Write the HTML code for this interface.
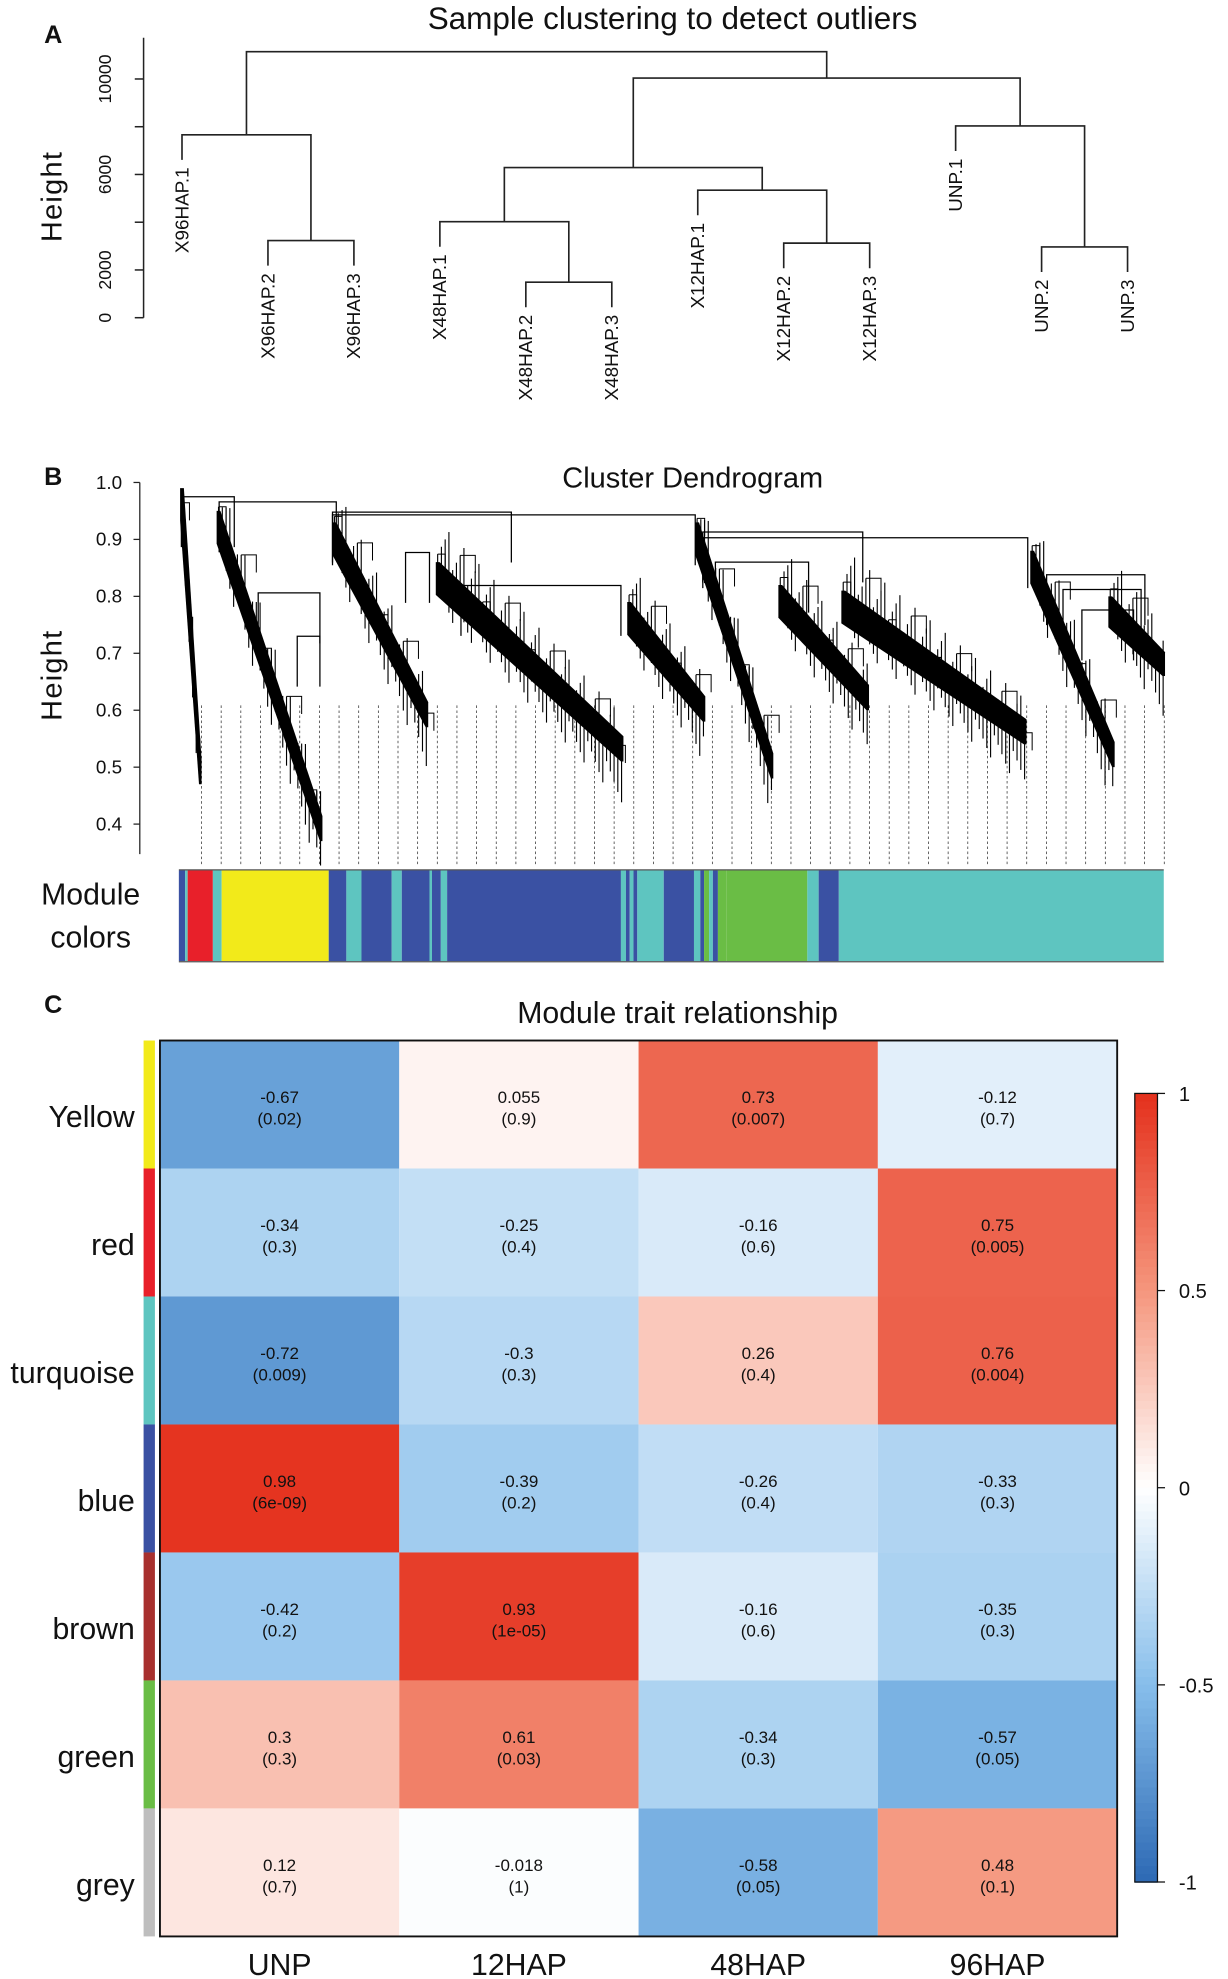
<!DOCTYPE html>
<html><head><meta charset="utf-8"><style>
html,body{margin:0;padding:0;background:#fff}
svg{display:block}
text{font-family:"Liberation Sans",sans-serif;fill:#111}
</style></head><body>
<svg id="fig" xmlns="http://www.w3.org/2000/svg" width="1228" height="1979" viewBox="0 0 975 1571" preserveAspectRatio="none">
<g id="pa"></g>
<g id="pb"></g>
<g id="pc"></g>
</svg>
<script>
// ---------- Panel A data ----------
const sampleLabels = ["X96HAP.1","X96HAP.2","X96HAP.3","X48HAP.1","X48HAP.2","X48HAP.3","X12HAP.1","X12HAP.2","X12HAP.3","UNP.1","UNP.2","UNP.3"];
const mergeLeft  = [-2,-5,-8,-11,-1,-4,-7,6,-10,8,5];
const mergeRight = [-3,-6,-9,-12, 1, 2, 3,7, 4, 9,10];
const mergeHeight= [3230,1488,3124,2966,7662,4021,5340,6290,8032,10037,11145];
const heightTicks = [0,2000,4000,6000,8000,10000];
const heightTickLabels = ["0","2000","","6000","","10000"];

// ---------- Panel B data ----------
const dendroTicks = [1.0,0.9,0.8,0.7,0.6,0.5,0.4];
const joinX0 = [144,174,264,264,558,558,568,366,322,205,236,831,844,859];
const joinX1 = [186,267,406,552,816,685,642,493,341,254,254,909,906,900];
const joinH  = [0.975,0.966,0.948,0.943,0.903,0.913,0.86,0.819,0.877,0.806,0.73,0.838,0.812,0.776];
const clX0 = [143,172,264,346,498,552,618,668,818,880];
const clX1 = [160,256,340,495,560,614,690,815,885,925];
const clTop= [0.99,0.95,0.93,0.86,0.79,0.93,0.82,0.81,0.88,0.80];
const clBot= [0.47,0.37,0.57,0.51,0.58,0.48,0.60,0.54,0.50,0.66];
const moduleSegStart = [142,147,149,169,176,261,275,287,311,319,341,343,350,355,493,497,500,503,506,527,551,556,559,563,566,570,577,641,650,666];
const moduleSegEnd   = [147,149,169,176,261,275,287,311,319,341,343,350,355,493,497,500,503,506,527,551,556,559,563,566,570,577,641,650,666,924];
const moduleSegColor = ["blue","turquoise","red","turquoise","yellow","blue","turquoise","blue","turquoise","blue","turquoise","blue","turquoise","blue","turquoise","blue","turquoise","blue","turquoise","blue","turquoise","blue","green","turquoise","blue","green","green","turquoise","blue","turquoise"];

// ---------- Panel C data ----------
const traits = ["UNP","12HAP","48HAP","96HAP"];
const modules = ["Yellow","red","turquoise","blue","brown","green","grey"];
const moduleSwatch = ["#f2ea1a","#e8202a","#5ec5c0","#3a51a3","#a8302e","#6abd45","#bebebe"];
const corrUNP   = [-0.67,-0.34,-0.72,0.98,-0.42,0.3,0.12];
const corr12HAP = [0.055,-0.25,-0.3,-0.39,0.93,0.61,-0.018];
const corr48HAP = [0.73,-0.16,0.26,-0.26,-0.16,-0.34,-0.58];
const corr96HAP = [-0.12,0.75,0.76,-0.33,-0.35,-0.57,0.48];
const pUNP   = ["0.02","0.3","0.009","6e-09","0.2","0.3","0.7"];
const p12HAP = ["0.9","0.4","0.3","0.2","1e-05","0.03","1"];
const p48HAP = ["0.007","0.6","0.4","0.4","0.6","0.3","0.05"];
const p96HAP = ["0.7","0.005","0.004","0.3","0.3","0.05","0.1"];
const legendTicks = [1,0.5,0,-0.5,-1];

const NS="http://www.w3.org/2000/svg";
function mk(parent,tag,attrs,txt){const e=document.createElementNS(NS,tag);for(const k in attrs)e.setAttribute(k,attrs[k]);if(txt!==undefined)e.textContent=txt;parent.appendChild(e);return e;}
const modColors={blue:"#3a51a3",turquoise:"#5ec5c0",red:"#e8202a",yellow:"#f2ea1a",green:"#6abd45"};

// ================= PANEL A =================
(function(){
const g=document.getElementById('pa');
let t=mk(g,'text',{x:35,y:34,'font-size':20,'font-weight':'bold'},'A');


t=mk(g,'text',{x:534,y:23,'font-size':25,'text-anchor':'middle'},'Sample clustering to detect outliers');


const yA=h=>252.2-h/2000*37.9;
const xA=i=>144.5+i*68.25;
let ax=mk(g,'line',{x1:114,y1:30,x2:114,y2:252.2,stroke:'#222','stroke-width':1.2});


heightTicks.forEach((v,i)=>{
  mk(g,'line',{x1:107,y1:yA(v),x2:114,y2:yA(v),stroke:'#222','stroke-width':1.2});
  if(heightTickLabels[i]){const tt=mk(g,'text',{x:0,y:0,'font-size':14,'text-anchor':'middle',transform:`translate(88,${yA(v)}) rotate(-90)`},heightTickLabels[i]);
  
  }
});
t=mk(g,'text',{x:0,y:0,'font-size':23,'text-anchor':'middle','letter-spacing':1,transform:'translate(49,156) rotate(-90)'},'Height');


const nodeX=[],nodeH=[];
const cx=c=>c<0?xA(-c-1):nodeX[c-1];
const ch=c=>c<0?null:nodeH[c-1];
const hang=1050;
for(let m=0;m<mergeHeight.length;m++){
  const h=mergeHeight[m];
  const L=mergeLeft[m],R=mergeRight[m];
  const xl=cx(L),xr=cx(R);
  const hl=L<0?h-hang:ch(L), hr=R<0?h-hang:ch(R);
  const p=mk(g,'path',{d:`M${xl},${yA(hl)}V${yA(h)}H${xr}V${yA(hr)}`,fill:'none',stroke:'#222','stroke-width':1.3});
  
  
  nodeX.push((xl+xr)/2);nodeH.push(h);
  [[L,hl,xl],[R,hr,xr]].forEach(([c,hh,xx])=>{
    if(c<0){const lb=mk(g,'text',{x:0,y:0,'font-size':15,'text-anchor':'end',transform:`translate(${xx+5},${yA(hh)+6}) rotate(-90)`},sampleLabels[-c-1]);
    
    }
  });
}
})();

// ================= PANEL B =================
(function(){
const g=document.getElementById('pb');
let t=mk(g,'text',{x:35,y:385,'font-size':20,'font-weight':'bold'},'B');


t=mk(g,'text',{x:550,y:387,'font-size':23,'text-anchor':'middle'},'Cluster Dendrogram');


const yB=h=>383+(1-h)*452;
let ax=mk(g,'line',{x1:111,y1:383,x2:111,y2:678,stroke:'#222','stroke-width':1});


dendroTicks.forEach(v=>{
  mk(g,'line',{x1:106,y1:yB(v),x2:111,y2:yB(v),stroke:'#222','stroke-width':1});
  const tt=mk(g,'text',{x:97,y:yB(v)+5,'font-size':15,'text-anchor':'end'},v.toFixed(1));
  
  
});
t=mk(g,'text',{x:0,y:0,'font-size':23,'text-anchor':'middle','letter-spacing':1,transform:'translate(49,536) rotate(-90)'},'Height');


for(let x=160;x<=925;x+=15.6){
  const l=mk(g,'line',{x1:x,y1:560,x2:x,y2:688,stroke:'#333','stroke-width':0.6,'stroke-dasharray':'2,2'});
  
  
}
clX0.forEach((x0,i)=>{
  const x1=clX1[i],yt=yB(clTop[i]),yb=yB(clBot[i]);
  const th=Math.min(20,(yb-yt)*0.3);
  const p=mk(g,'path',{d:`M${x0},${yt}L${x0+3},${yt}L${x1},${yb-th}L${x1},${yb}L${x1-2},${yb}L${x0},${yt+th*1.3}Z`,fill:'#000'});
  
  
  const n=Math.max(4,Math.round((x1-x0)/3));
  for(let k=0;k<n;k++){
    const f=(k+0.5)/n, x=x0+f*(x1-x0), y=yt+f*(yb-yt);
    const up=8+(k%4)*9, dn=6+(k%5)*5;
    const d=mk(g,'line',{x1:x,y1:y-up,x2:x,y2:y+th*0.4+dn,stroke:'#000','stroke-width':0.9});
    
    
    if(k%6===0){
      const hb=mk(g,'path',{d:`M${x},${y-up}H${x+6+(k%4)*3}V${y-up+14}`,fill:'none',stroke:'#000','stroke-width':0.8});
      
      
    }
  }
});
joinX0.forEach((x0,i)=>{
  const y=yB(joinH[i]);
  const p=mk(g,'path',{d:`M${x0},${y+40}V${y}H${joinX1[i]}V${y+40}`,fill:'none',stroke:'#000','stroke-width':1});
  
  
});
moduleSegStart.forEach((x0,i)=>{
  const r=mk(g,'rect',{x:x0,y:691,width:moduleSegEnd[i]-x0,height:72,fill:modColors[moduleSegColor[i]]});
  
  
});
mk(g,'line',{x1:142,y1:690.5,x2:924,y2:690.5,stroke:'#555','stroke-width':1});
mk(g,'line',{x1:142,y1:763.5,x2:924,y2:763.5,stroke:'#555','stroke-width':1});
t=mk(g,'text',{x:72,y:718,'font-size':24,'text-anchor':'middle'},'Module');


t=mk(g,'text',{x:72,y:752,'font-size':24,'text-anchor':'middle'},'colors');


})();

// ================= PANEL C =================
(function(){
const g=document.getElementById('pc');
let t=mk(g,'text',{x:35,y:804,'font-size':20,'font-weight':'bold'},'C');


t=mk(g,'text',{x:538,y:812,'font-size':24,'text-anchor':'middle'},'Module trait relationship');


const X0=127,Y0=826,CW=190,RH=101.6;
const lerp=(a,b,t)=>a.map((v,i)=>Math.round(v+(b[i]-v)*t));
function col(v){
  const W=[255,255,255],B1=[135,190,235],B2=[45,105,180],R1=[245,150,125],R2=[228,48,28];
  let c;
  if(v>=0)c=v<=0.5?lerp(W,R1,v/0.5):lerp(R1,R2,(v-0.5)/0.5);
  else{const a=-v;c=a<=0.5?lerp(W,B1,a/0.5):lerp(B1,B2,(a-0.5)/0.5);}
  return `rgb(${c[0]},${c[1]},${c[2]})`;
}
const corr=[corrUNP,corr12HAP,corr48HAP,corr96HAP];
const pv=[pUNP,p12HAP,p48HAP,p96HAP];
modules.forEach((m,r)=>{
  const y=Y0+r*RH;
  const sw=mk(g,'rect',{x:114,y:y,width:9,height:RH,fill:moduleSwatch[r]});
  
  
  const lb=mk(g,'text',{x:107,y:y+RH/2+18,'font-size':24,'text-anchor':'end'},m);
  
  
  traits.forEach((tr,c)=>{
    const v=corr[c][r];
    const cell=mk(g,'rect',{x:X0+c*CW,y:y,width:CW,height:RH,fill:col(v)});
    
    
    const cx=X0+c*CW+CW/2;
    const a=mk(g,'text',{x:cx,y:y+RH/2-1,'font-size':13.5,'text-anchor':'middle',fill:'#222'},String(v));
    
    
    const b=mk(g,'text',{x:cx,y:y+RH/2+16,'font-size':13.5,'text-anchor':'middle',fill:'#222'},'('+pv[c][r]+')');
    
    
  });
});
mk(g,'rect',{x:X0,y:Y0,width:CW*4,height:RH*7,fill:'none',stroke:'#111','stroke-width':1.5});
traits.forEach((tr,c)=>{
  const lb=mk(g,'text',{x:X0+c*CW+CW/2,y:1568,'font-size':24,'text-anchor':'middle'},tr);
  
  
});
const LT=868,LB=1494,LX=901,LW=18;
const yL=v=>LT+(1-v)/2*(LB-LT);
for(let i=0;i<100;i++){
  const v=1-(i+0.5)/50;
  const r=mk(g,'rect',{x:LX,y:LT+i*(LB-LT)/100,width:LW,height:(LB-LT)/100+0.6,fill:col(v)});
  
  
}
let fr=mk(g,'rect',{x:LX,y:LT,width:LW,height:LB-LT,fill:'none',stroke:'#111','stroke-width':1});


legendTicks.forEach(v=>{
  mk(g,'line',{x1:LX+LW,y1:yL(v),x2:LX+LW+6,y2:yL(v),stroke:'#111','stroke-width':1});
  const tt=mk(g,'text',{x:LX+LW+17,y:yL(v)+6,'font-size':16},String(v));
  
  
});
})();
</script>
</body></html>
